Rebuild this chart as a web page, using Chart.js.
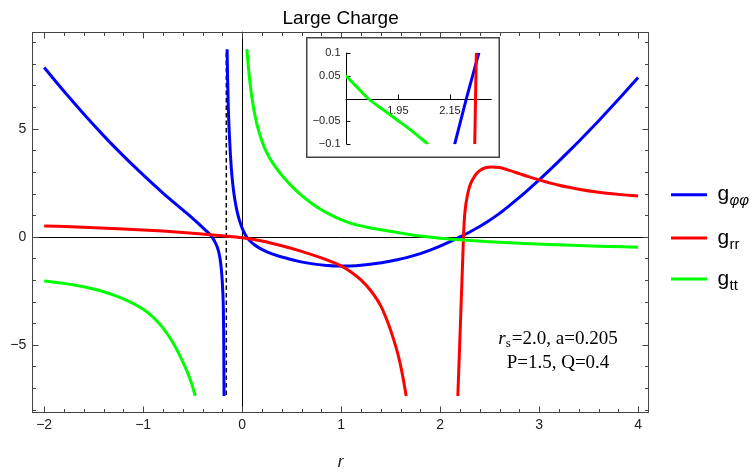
<!DOCTYPE html>
<html><head><meta charset="utf-8">
<script src="https://cdn.jsdelivr.net/npm/chart.js@4.4.1/dist/chart.umd.min.js"></script>
<style>
html,body{margin:0;padding:0;background:#fff;}
#wrap{position:relative;width:756px;height:474px;overflow:hidden;}
#main{position:absolute;left:0;top:0;}
#inset{position:absolute;left:306px;top:37px;}
</style></head><body>
<div id="wrap"><canvas id="main" width="756" height="474"></canvas><canvas id="inset" width="194" height="121"></canvas></div>
<script>
// ---------- data ----------
const xTickValues = [-2, -1, 0, 1, 2, 3, 4];
const yTickValues = [-5, 0, 5];
const seriesSubs = ['\u03c6\u03c6', 'rr', 'tt'];
const seriesColors = ['#0000ff', '#ff0000', '#00ff00'];

// g_phiphi, left branch
const gphiLeftX = [-2.0, -1.8, -1.6, -1.4, -1.2, -1.0, -0.8, -0.6, -0.5, -0.43, -0.37, -0.32, -0.28, -0.25, -0.23, -0.215, -0.205, -0.197, -0.19, -0.186, -0.183];
const gphiLeftY = [7.83, 6.73, 5.68, 4.68, 3.74, 2.86, 2.02, 1.24, 0.85, 0.56, 0.3, 0.08, -0.2, -0.5, -0.85, -1.3, -1.8, -2.4, -3.3, -4.8, -7.37];
// g_phiphi, right branch
const gphiRightX = [-0.152, -0.147, -0.14, -0.13, -0.12, -0.11, -0.095, -0.075, -0.05, -0.025, 0, 0.025, 0.05, 0.08, 0.12, 0.18, 0.25, 0.35, 0.45, 0.55, 0.65, 0.75, 0.85, 0.95, 1.05, 1.15, 1.25, 1.35, 1.45, 1.55, 1.65, 1.75, 1.85, 1.95, 2.05, 2.15, 2.2, 2.3, 2.4, 2.5, 2.6, 2.7, 2.8, 2.9, 3.0, 3.1, 3.2, 3.3, 3.4, 3.5, 3.6, 3.7, 3.8, 3.9, 4.0];
const gphiRightY = [8.68, 7.3, 6.0, 4.8, 3.9, 3.2, 2.45, 1.75, 1.15, 0.72, 0.4, 0.15, -0.04, -0.2, -0.36, -0.54, -0.7, -0.87, -1.0, -1.12, -1.21, -1.28, -1.33, -1.36, -1.36, -1.34, -1.3, -1.24, -1.17, -1.08, -0.98, -0.85, -0.7, -0.53, -0.33, -0.12, -0.01, 0.22, 0.47, 0.76, 1.08, 1.44, 1.82, 2.22, 2.63, 3.06, 3.5, 3.95, 4.41, 4.88, 5.36, 5.85, 6.35, 6.86, 7.37];
// g_rr, left branch
const grrLeftX = [-2.0, -1.6, -1.2, -0.8, -0.5, -0.2, 0, 0.2, 0.4, 0.6, 0.8, 0.9, 1.0, 1.1, 1.2, 1.3, 1.4, 1.47, 1.53, 1.58, 1.62, 1.657];
const grrLeftY = [0.5, 0.44, 0.36, 0.26, 0.16, 0.04, -0.05, -0.2, -0.42, -0.68, -0.98, -1.15, -1.35, -1.63, -2.0, -2.5, -3.2, -3.95, -4.75, -5.55, -6.4, -7.37];
// g_rr, right branch
const grrRightX = [2.179, 2.19, 2.2, 2.21, 2.22, 2.23, 2.236, 2.246, 2.26, 2.275, 2.29, 2.31, 2.335, 2.36, 2.4, 2.45, 2.52, 2.6, 2.7, 2.8, 2.9, 3.0, 3.2, 3.4, 3.6, 3.8, 4.0];
const grrRightY = [-7.37, -5.96, -4.67, -3.38, -2.09, -0.8, 0, 0.9, 1.5, 1.9, 2.2, 2.48, 2.7, 2.88, 3.06, 3.18, 3.23, 3.2, 3.07, 2.92, 2.77, 2.63, 2.38, 2.2, 2.06, 1.96, 1.88];
// g_tt, left branch
const gttLeftX = [-2.0, -1.8, -1.6, -1.4, -1.2, -1.0, -0.9, -0.8, -0.7, -0.62, -0.56, -0.51, -0.474];
const gttLeftY = [-2.05, -2.16, -2.32, -2.55, -2.88, -3.36, -3.72, -4.22, -4.9, -5.6, -6.2, -6.8, -7.37];
// g_tt, right branch
const gttRightX = [0.048, 0.06, 0.08, 0.1, 0.13, 0.17, 0.22, 0.28, 0.35, 0.42, 0.5, 0.6, 0.7, 0.8, 0.9, 1.0, 1.1, 1.25, 1.4, 1.6, 1.8, 2.0, 2.2, 2.5, 2.8, 3.1, 3.4, 3.7, 4.0];
const gttRightY = [8.68, 8.0, 7.1, 6.4, 5.6, 4.85, 4.18, 3.62, 3.14, 2.74, 2.34, 1.91, 1.55, 1.25, 1.0, 0.79, 0.62, 0.45, 0.32, 0.17, 0.03, -0.07, -0.14, -0.23, -0.3, -0.36, -0.41, -0.45, -0.49];
// dashed asymptote
const asymX = [-0.16, -0.16];
const asymY = [8.5, -7.35];

// inset (zoom near r = 2)
const insetXTickValues = [1.95, 2.15];
const insetYTickValues = [-0.1, -0.05, 0.05, 0.1];
const insetTtX = [1.75, 1.8, 1.836, 1.9, 1.95, 2.0, 2.066];
const insetTtY = [0.05, 0.021, 0.0, -0.027, -0.048, -0.069, -0.1];
const insetPhiX = [2.168, 2.213, 2.261];
const insetPhiY = [-0.1, 0.0, 0.1];
const insetRrX = [2.245, 2.248, 2.251];
const insetRrY = [-0.1, 0.0, 0.1];

const titleText = 'Large Charge';
const axisTitle = 'r';
const noteLine1 = ['r', 's', '=2.0, a=0.205'];
const noteLine2 = 'P=1.5, Q=0.4';

// ---------- helpers ----------
const pts = (xs, ys) => xs.map((x, i) => ({x: x, y: ys[i]}));
const fmt = v => (v < 0 ? '\u2212' + Math.abs(v) : String(v));
const SANS = '"Liberation Sans", Arial, sans-serif';
const SERIF = '"Liberation Serif", "Times New Roman", serif';

function lineDS(data, color, order) {
  return {data: data, borderColor: color, backgroundColor: color, borderWidth: 3, pointRadius: 0,
          showLine: true, fill: false, cubicInterpolationMode: 'monotone', order: order};
}

const mainPlugin = {
  id: 'mainDeco',
  beforeDraw(chart) {
    const c = chart.ctx; c.save(); c.fillStyle = '#fff'; c.fillRect(0, 0, chart.width, chart.height); c.restore();
  },
  beforeDatasetsDraw(chart) {
    const c = chart.ctx, a = chart.chartArea, sx = chart.scales.x, sy = chart.scales.y;
    c.save(); c.strokeStyle = '#000'; c.lineWidth = 1;
    const x0 = Math.round(sx.getPixelForValue(0)) + 0.5;
    const y0 = Math.round(sy.getPixelForValue(0)) + 0.5;
    c.beginPath(); c.moveTo(x0, a.top); c.lineTo(x0, a.bottom); c.moveTo(a.left, y0); c.lineTo(a.right, y0); c.stroke();
    c.restore();
  },
  afterDatasetsDraw(chart) {
    const c = chart.ctx, a = chart.chartArea, sx = chart.scales.x, sy = chart.scales.y;
    c.save();
    c.strokeStyle = '#444'; c.lineWidth = 1;
    const L = Math.round(a.left) + 0.5, R = Math.round(a.right) - 0.5, T = Math.round(a.top) + 0.5, B = Math.round(a.bottom) - 0.5;
    c.strokeRect(L, T, R - L, B - T);
    c.beginPath();
    for (let k = -10; k <= 20; k++) {
      const v = k * 0.2; const major = k % 5 === 0;
      const len = major ? 6 : 3.5;
      const px = Math.round(sx.getPixelForValue(v)) + 0.5;
      c.moveTo(px, B); c.lineTo(px, B - len);
      c.moveTo(px, T); c.lineTo(px, T + len);
    }
    for (let v = -8; v <= 9; v++) {
      const major = v % 5 === 0; const len = major ? 6 : 3.5;
      const py = Math.round(sy.getPixelForValue(v)) + 0.5;
      c.moveTo(L, py); c.lineTo(L + len, py);
      c.moveTo(R, py); c.lineTo(R - len, py);
    }
    c.stroke();
    c.restore();
  },
  afterDraw(chart) {
    const c = chart.ctx, a = chart.chartArea;
    c.save();
    // title
    c.fillStyle = '#000'; c.font = '19px ' + SANS; c.textAlign = 'center'; c.textBaseline = 'alphabetic';
    c.fillText(titleText, (a.left + a.right) / 2, 24);
    // legend
    const ly = [194.7, 238, 279];
    for (let i = 0; i < 3; i++) {
      c.strokeStyle = seriesColors[i]; c.lineWidth = 3;
      c.beginPath(); c.moveTo(671, ly[i]); c.lineTo(707, ly[i]); c.stroke();
      c.fillStyle = '#000'; c.textAlign = 'left';
      c.font = '21px ' + SANS; c.fillText('g', 717.5, ly[i] + 5.5);
      c.font = (i === 0 ? 'italic ' : '') + '15px ' + SANS; c.fillText(seriesSubs[i], 729.5, ly[i] + 10.5);
    }
    // annotation
    c.fillStyle = '#000'; c.textAlign = 'left';
    const cx = 558;
    c.font = 'italic 19px ' + SERIF; const w1 = c.measureText(noteLine1[0]).width;
    c.font = '13px ' + SERIF; const w2 = c.measureText(noteLine1[1]).width;
    c.font = '19px ' + SERIF; const w3 = c.measureText(noteLine1[2]).width;
    let xs = cx - (w1 + w2 + 1 + w3) / 2;
    c.font = 'italic 19px ' + SERIF; c.fillText(noteLine1[0], xs, 344);
    c.font = '13px ' + SERIF; c.fillText(noteLine1[1], xs + w1, 347);
    c.font = '19px ' + SERIF; c.fillText(noteLine1[2], xs + w1 + w2 + 1, 344);
    c.textAlign = 'center'; c.fillText(noteLine2, cx, 368);
    c.restore();
  }
};

new Chart(document.getElementById('main'), {
  type: 'scatter',
  data: {datasets: [
    lineDS(pts(gttLeftX, gttLeftY), seriesColors[2], 1),
    lineDS(pts(gttRightX, gttRightY), seriesColors[2], 1),
    lineDS(pts(grrLeftX, grrLeftY), seriesColors[1], 2),
    lineDS(pts(grrRightX, grrRightY), seriesColors[1], 2),
    lineDS(pts(gphiLeftX, gphiLeftY), seriesColors[0], 3),
    lineDS(pts(gphiRightX, gphiRightY), seriesColors[0], 3),
    {data: pts(asymX, asymY), borderColor: '#000', borderWidth: 1.5, borderDash: [4.5, 3], pointRadius: 0, showLine: true, fill: false, order: 4}
  ]},
  options: {
    responsive: false, animation: false, events: [],
    layout: {padding: {left: 0, right: 107, top: 31.7, bottom: 0}},
    scales: {
      x: {type: 'linear', min: -2.12, max: 4.11,
          grid: {display: false, drawTicks: false}, border: {display: false},
          afterBuildTicks: s => { s.ticks = xTickValues.map(v => ({value: v})); },
          afterFit: s => { s.height = 61; },
          ticks: {padding: 4, color: '#222', font: {family: SANS, size: 14}, callback: v => fmt(v), maxRotation: 0, autoSkip: false},
          title: {display: true, text: axisTitle, color: '#222', font: {family: SANS, size: 17, style: 'italic'}, padding: {top: 0, bottom: 2}}},
      y: {type: 'linear', min: -8.16, max: 9.49,
          grid: {display: false, drawTicks: false}, border: {display: false},
          afterBuildTicks: s => { s.ticks = yTickValues.map(v => ({value: v})); },
          afterFit: s => { s.width = 32.3; },
          ticks: {padding: 6, color: '#222', font: {family: SANS, size: 14}, callback: v => fmt(v), autoSkip: false}}
    },
    plugins: {legend: {display: false}, tooltip: {enabled: false}, title: {display: false}}
  },
  plugins: [mainPlugin]
});

const insetPlugin = {
  id: 'insetDeco',
  beforeDraw(chart) {
    const c = chart.ctx; c.save(); c.fillStyle = '#fff'; c.fillRect(0, 0, chart.width, chart.height); c.restore();
  },
  beforeDatasetsDraw(chart) {
    const c = chart.ctx, a = chart.chartArea, sx = chart.scales.x, sy = chart.scales.y;
    c.save(); c.strokeStyle = '#000'; c.lineWidth = 1;
    const ax = Math.round(a.left) + 0.5, ay = Math.round(sy.getPixelForValue(0)) + 0.5;
    c.beginPath();
    c.moveTo(ax, a.top); c.lineTo(ax, a.bottom);
    c.moveTo(a.left, ay); c.lineTo(a.right, ay);
    insetYTickValues.forEach(v => { const py = Math.round(sy.getPixelForValue(v)) + 0.5; c.moveTo(ax, py); c.lineTo(ax + 4, py); });
    insetXTickValues.forEach(v => { const px = Math.round(sx.getPixelForValue(v)) + 0.5; c.moveTo(px, ay); c.lineTo(px, ay - 5); });
    c.stroke();
    c.fillStyle = '#222'; c.font = '11px ' + SANS;
    c.textAlign = 'right'; c.textBaseline = 'middle';
    insetYTickValues.forEach(v => c.fillText(fmt(v), ax - 6, sy.getPixelForValue(v)));
    c.textAlign = 'center';
    insetXTickValues.forEach(v => c.fillText(fmt(v), sx.getPixelForValue(v), ay + 11.5));
    c.restore();
  },
  afterDraw(chart) {
    const c = chart.ctx; c.save(); c.strokeStyle = '#444'; c.lineWidth = 1.5;
    c.strokeRect(0.75, 0.75, chart.width - 1.5, chart.height - 1.5); c.restore();
  }
};

new Chart(document.getElementById('inset'), {
  type: 'scatter',
  data: {datasets: [
    lineDS(pts(insetTtX, insetTtY), seriesColors[2], 1),
    lineDS(pts(insetRrX, insetRrY), seriesColors[1], 2),
    lineDS(pts(insetPhiX, insetPhiY), seriesColors[0], 3)
  ]},
  options: {
    responsive: false, animation: false, events: [],
    layout: {padding: {left: 39.7, right: 8.3, top: 15.7, bottom: 13.7}},
    scales: {
      x: {type: 'linear', min: 1.75, max: 2.31, display: false},
      y: {type: 'linear', min: -0.1, max: 0.1, display: false}
    },
    plugins: {legend: {display: false}, tooltip: {enabled: false}, title: {display: false}}
  },
  plugins: [insetPlugin]
});
</script>
</body></html>
